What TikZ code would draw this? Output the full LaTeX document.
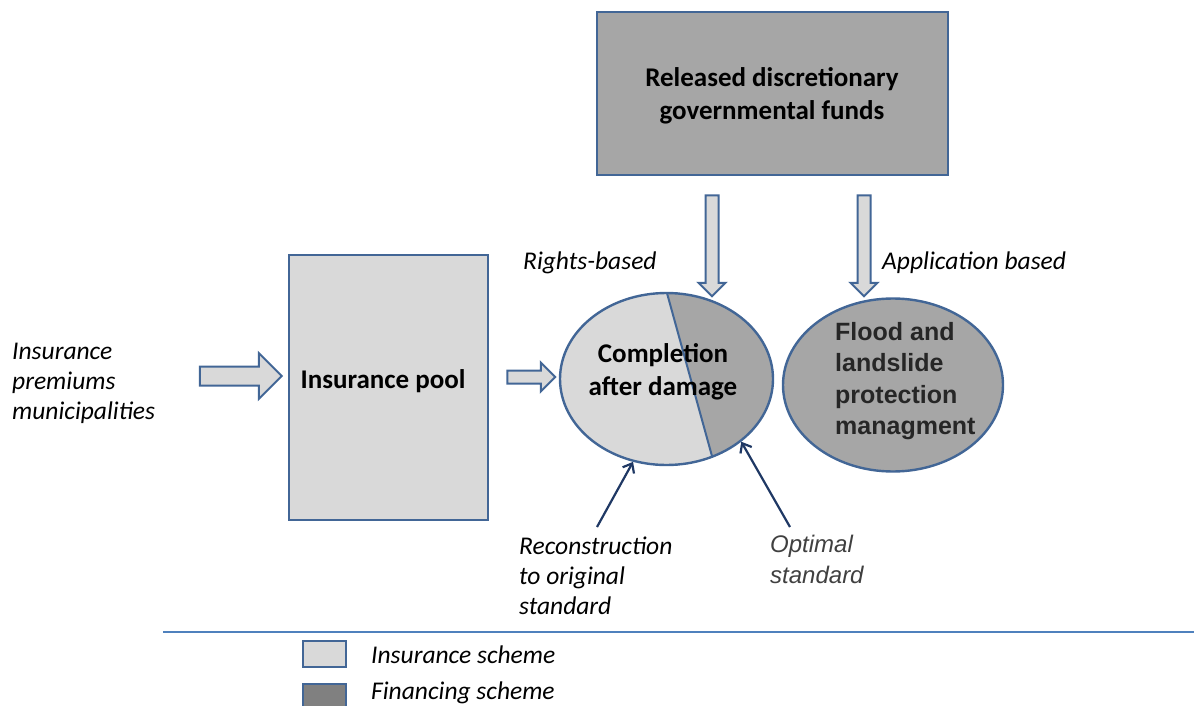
\documentclass[tikz,border=0pt]{standalone}
\usepackage{fontspec}
\setmainfont{Carlito}
\newfontfamily\arialfont{Liberation Sans}
\usepackage{xcolor}
\usetikzlibrary{shapes.geometric,shapes.arrows,arrows.meta}
\definecolor{edgeblue}{RGB}{66,102,150}
\definecolor{insgray}{RGB}{217,217,217}
\definecolor{fingray}{RGB}{166,166,166}
\definecolor{legendgray}{RGB}{128,128,128}
\definecolor{navy}{RGB}{31,56,100}
\definecolor{rule}{RGB}{79,129,189}
\definecolor{darktext}{RGB}{64,64,64}

\begin{document}
\begin{tikzpicture}[x=1pt, y=-1pt,
		box/.style={draw=edgeblue, line width=2.4pt, inner sep=0pt},
		ins/.style={box, fill=insgray},
		fin/.style={box, fill=fingray},
		heading/.style={font=\fontsize{27}{33}\selectfont\bfseries, align=center, inner sep=0pt},
		note/.style={font=\fontsize{25.5}{30}\selectfont\itshape, align=left, inner sep=0pt},
		flow/.style={single arrow, draw=edgeblue, fill=insgray, line width=2pt, inner xsep=0pt},
		pointer/.style={draw=navy, line width=2.2pt, -{Straight Barb[length=8pt, width=13pt]}}]
	\useasboundingbox (0,0) rectangle (1194,706);

	% boxes
	\node[fin, minimum width=351pt, minimum height=163pt] (funds) at (772.5,93.5) {};
	\node[heading] (fundstext) at (772,96) {Released discretionary\\governmental funds};
	\node[ins, minimum width=199pt, minimum height=265pt] (pool) at (388.5,387.5) {};
	\node[heading] (pooltext) at (383,381) {Insurance pool};

	% split ellipse
	\fill[insgray] (666.5,379) ellipse [x radius=106.5, y radius=86];
	\begin{scope}
		\clip (666.5,379) ellipse [x radius=106.5, y radius=86];
		\fill[fingray] (655.1,250) -- (724.1,500) -- (800,500) -- (800,250) -- cycle;
		\draw[edgeblue, line width=2pt] (655.1,250) -- (724.1,500);
	\end{scope}
	\node[box, ellipse, minimum width=213pt, minimum height=172pt] (repair) at (666.5,379) {};
	\node[heading] (repairtext) at (663,372) {Completion\\after damage};

	\node[fin, ellipse, minimum width=220pt, minimum height=173pt] (flood) at (893,385) {};
	\node[anchor=west, inner sep=0pt, align=left, font=\arialfont\fontsize{25}{31.5}\selectfont\bfseries, text=black!85] (floodtext) at (835,381) {Flood and\\landslide\\protection\\managment};

	% block arrows
	\node[flow, minimum height=82pt, inner ysep=8.5pt, single arrow head extend=13.5pt] (premiumflow) at (236,376) {};
	\node[flow, minimum height=48pt, inner ysep=5.5pt, single arrow head extend=8pt] (poolflow) at (528,377) {};
	\node[flow, rotate=-90, minimum height=101pt, inner ysep=5.5pt, single arrow head extend=7pt] (rightsflow) at (712,242.5) {};
	\node[flow, rotate=-90, minimum height=101pt, inner ysep=5.5pt, single arrow head extend=7pt] (appflow) at (864,242.5) {};

	% labels
	\node[note, anchor=west] (premiums) at (12,383) {Insurance\\premiums\\municipalities};
	\node[note, anchor=west] (rights) at (523,263) {Rights-based};
	\node[note, anchor=west] (application) at (882,263) {Application based};
	\node[note, anchor=north west] (original) at (519,537) {Reconstruction\\to original\\standard};
	\node[note, anchor=north west, font=\arialfont\fontsize{24}{31}\selectfont\itshape, text=darktext] (optimal) at (770,535) {Optimal\\standard};

	% pointers
	\coordinate (originaltail) at (597,527);
	\coordinate (optimaltail) at (790,527);
	\draw[pointer] (originaltail) -- (repair.248);
	\draw[pointer] (optimaltail) -- (repair.320);

	% legend
	\coordinate (ruleleft) at (163,632);
	\coordinate (ruleright) at (1194,632);
	\draw[rule, line width=2pt] (ruleleft) -- (ruleright);
	\node[ins, minimum width=43pt, minimum height=26pt] (inskey) at (324.5,654) {};
	\node[box, fill=legendgray, minimum width=43pt, minimum height=26pt] (finkey) at (324.5,697) {};
	\node[note, anchor=west] (inskeytext) at (371,655) {Insurance scheme};
	\node[note, anchor=west] (finkeytext) at (371,693) {Financing scheme};
\end{tikzpicture}
\end{document}
